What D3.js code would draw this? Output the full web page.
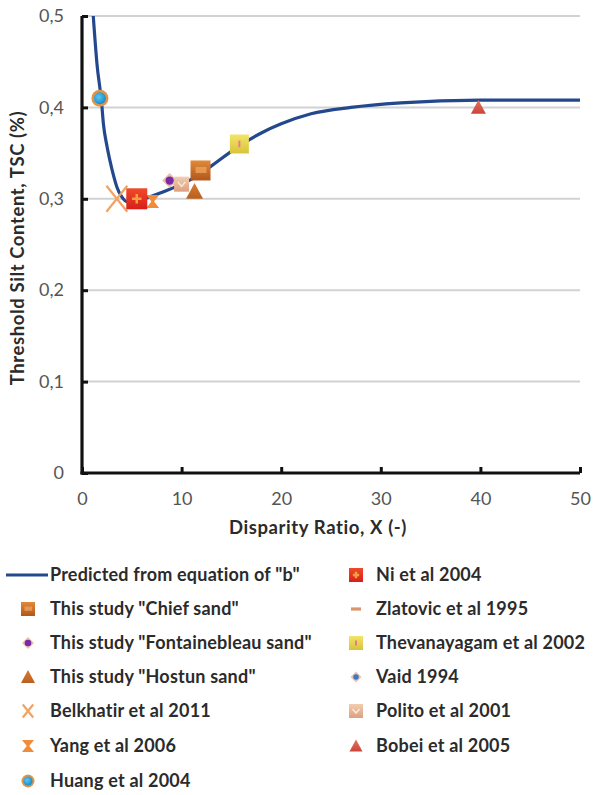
<!DOCTYPE html>
<html>
<head>
<meta charset="utf-8">
<script src="https://cdn.jsdelivr.net/npm/d3@7"></script>
<style>
  html, body { margin: 0; padding: 0; background: #fff; }
  svg { display: block; }
</style>
</head>
<body>
<svg id="chart" width="595" height="795"></svg>
<script>
// Predicted curve TSC = f(X), sampled along the fitted equation "b"
const curveX = [1.13, 1.5, 1.97, 2.15, 2.5, 2.8, 3.2, 3.5, 4.0, 4.5, 5.5, 6.5, 8, 10, 12, 13, 15.8, 18, 20, 23, 27, 32, 40, 50];
const curveY = [0.5, 0.448, 0.405, 0.382, 0.358, 0.342, 0.324, 0.313, 0.302, 0.297, 0.298, 0.301, 0.307, 0.316, 0.328, 0.336, 0.358, 0.372, 0.382, 0.393, 0.400, 0.405, 0.408, 0.408];

// Experimental series: name, disparity ratio, threshold silt content, marker style
const seriesNames = ["This study \"Chief sand\"", "This study \"Fontainebleau sand\"", "This study \"Hostun sand\"",
  "Belkhatir et al 2011", "Yang et al 2006", "Huang et al 2004",
  "Ni et al 2004", "Zlatovic et al 1995", "Thevanayagam et al 2002", "Vaid 1994", "Polito et al 2001", "Bobei et al 2005"];
const seriesX = [11.9, 8.8, 11.3, 3.5, 7.1, 1.8, 5.5, 5.6, 15.8, 9.6, 10.0, 39.8];
const seriesY = [0.331, 0.320, 0.308, 0.300, 0.297, 0.410, 0.300, 0.300, 0.360, 0.316, 0.316, 0.400];
const seriesMarker = ["square", "diamond", "triangle", "x", "bowtie", "circle", "squareCross", "dash", "squareYellow", "diamondBlue", "squareBeige", "triangleRed"];
const seriesSize = [20, 15, 17, 26, 13, 17, 21, 12, 19, 11, 15, 15];
// draw order in the plot (later = on top)
const drawOrder = [9, 7, 10, 3, 4, 6, 1, 2, 0, 8, 5, 11];

const xTicks = [0, 10, 20, 30, 40, 50];
const yTicks = [0, 0.1, 0.2, 0.3, 0.4, 0.5];

const svg = d3.select("#chart");
const x = d3.scaleLinear().domain([0, 50]).range([82, 580]);
const y = d3.scaleLinear().domain([0, 0.5]).range([473, 16]);

const defs = svg.append("defs");
defs.append("clipPath").attr("id", "plotClip")
  .append("rect").attr("x", 82).attr("y", 16).attr("width", 500).attr("height", 458);

// gradients for the bevelled-looking markers
function grad(id, c1, c2) {
  const g = defs.append("linearGradient").attr("id", id).attr("x1", 0).attr("y1", 0).attr("x2", 0).attr("y2", 1);
  g.append("stop").attr("offset", "0%").attr("stop-color", c1);
  g.append("stop").attr("offset", "100%").attr("stop-color", c2);
}
grad("gBrown", "#e08a3a", "#b2561a");
grad("gRed", "#f04a2a", "#d81e1a");
grad("gYellow", "#f2e46a", "#d8c43a");
grad("gBeige", "#f2cdb0", "#dca080");
grad("gTri", "#d97a35", "#b9601f");
grad("gTriRed", "#e8725f", "#c9453a");
const rg = defs.append("radialGradient").attr("id", "gBlue").attr("cx", "40%").attr("cy", "40%").attr("r", "60%");
rg.append("stop").attr("offset", "0%").attr("stop-color", "#5cc8f0");
rg.append("stop").attr("offset", "100%").attr("stop-color", "#1a8ccc");

// gridlines
svg.append("g").selectAll("line").data(yTicks.filter(d => d > 0)).join("line")
  .attr("x1", x(0)).attr("x2", x(50))
  .attr("y1", d => y(d)).attr("y2", d => y(d))
  .attr("stroke", "#d2d2d2").attr("stroke-width", 2);

// axes
const fmt = d => d === 0 ? "0" : d3.format(".1f")(d).replace(".", ",");
const yAxis = svg.append("g").attr("transform", `translate(${x(0)},0)`)
  .call(d3.axisLeft(y).tickValues(yTicks).tickSizeInner(-6).tickSizeOuter(0).tickPadding(18).tickFormat(fmt));
const xAxis = svg.append("g").attr("transform", `translate(0,${y(0)})`)
  .call(d3.axisBottom(x).tickValues(xTicks).tickSizeInner(-6).tickSizeOuter(0).tickPadding(23));
[xAxis, yAxis].forEach(a => {
  a.select(".domain").attr("stroke", "#111").attr("stroke-width", 3.2);
  a.selectAll(".tick line").attr("stroke", "#111").attr("stroke-width", 3);
  a.selectAll(".tick text").attr("fill", "#555").style("font-family", "Lato, 'Open Sans', sans-serif").style("font-size", "18px");
});
yAxis.select(".domain").attr("d", `M0,${y(0) + 1.5}V${y(0.5)}`);
xAxis.select(".domain").attr("d", `M${x(0) - 1.5},0H${x(50)}`);
xAxis.selectAll(".tick text").attr("dy", "0.5em");

// axis titles
const titleStyle = sel => sel.style("font-family", "Lato, sans-serif").style("font-weight", "bold")
  .style("font-size", "18.5px").style("letter-spacing", "0.6px").attr("fill", "#2b2b2b");
svg.append("text").attr("x", 318).attr("y", 534).attr("text-anchor", "middle")
  .call(titleStyle).text("Disparity Ratio, X (-)");
svg.append("text").attr("transform", "translate(24,248) rotate(-90)").attr("text-anchor", "middle")
  .call(titleStyle).text("Threshold Silt Content, TSC (%)");

// predicted curve
const line = d3.line().x(d => x(d[0])).y(d => y(d[1])).curve(d3.curveMonotoneX);
svg.append("path").attr("clip-path", "url(#plotClip)")
  .datum(curveX.map((v, i) => [v, curveY[i]]))
  .attr("d", line).attr("fill", "none").attr("stroke", "#24488e").attr("stroke-width", 3.2);

// marker painter
function marker(g, type, s) {
  const h = s / 2;
  switch (type) {
    case "square":
      g.append("rect").attr("x", -h).attr("y", -h).attr("width", s).attr("height", s).attr("fill", "url(#gBrown)");
      g.append("rect").attr("x", -h * 0.5).attr("y", -h * 0.35).attr("width", s * 0.55).attr("height", s * 0.3).attr("fill", "#eda060").attr("opacity", 0.8);
      break;
    case "squareCross":
      g.append("rect").attr("x", -h).attr("y", -h).attr("width", s).attr("height", s).attr("fill", "url(#gRed)");
      g.append("path").attr("d", `M${-h * 0.45},0H${h * 0.45}M0,${-h * 0.45}V${h * 0.45}`).attr("stroke", "#f5a040").attr("stroke-width", 2.5);
      break;
    case "squareYellow":
      g.append("rect").attr("x", -h).attr("y", -h).attr("width", s).attr("height", s).attr("fill", "url(#gYellow)");
      g.append("path").attr("d", `M0,${-h * 0.35}V${h * 0.35}`).attr("stroke", "#e87a8a").attr("stroke-width", 2);
      break;
    case "squareBeige":
      g.append("rect").attr("x", -h).attr("y", -h).attr("width", s).attr("height", s).attr("fill", "url(#gBeige)");
      g.append("path").attr("d", `M${-h * 0.5},${-h * 0.3}L0,${h * 0.3}L${h * 0.5},${-h * 0.3}`).attr("fill", "none").attr("stroke", "#fbe8d8").attr("stroke-width", 1.5);
      break;
    case "diamond":
      g.append("path").attr("d", `M0,${-h}L${h},0L0,${h}L${-h},0Z`).attr("fill", "#e8c0a8");
      g.append("circle").attr("r", h * 0.55).attr("fill", "#7a2aa8");
      break;
    case "diamondBlue":
      g.append("path").attr("d", `M0,${-h}L${h},0L0,${h}L${-h},0Z`).attr("fill", "#e6c4ae");
      g.append("circle").attr("r", h * 0.5).attr("fill", "#3a78c8");
      break;
    case "triangle":
      g.append("path").attr("d", `M0,${-h}L${h},${h * 0.85}L${-h},${h * 0.85}Z`).attr("fill", "url(#gTri)");
      break;
    case "triangleRed":
      g.append("path").attr("d", `M0,${-h}L${h},${h * 0.85}L${-h},${h * 0.85}Z`).attr("fill", "url(#gTriRed)");
      break;
    case "x":
      g.append("path").attr("d", `M${-h * 0.8},${-h}L${h * 0.8},${h}M${h * 0.8},${-h}L${-h * 0.8},${h}`)
        .attr("stroke", "#f3a35f").attr("stroke-width", 2.2).attr("fill", "none");
      break;
    case "bowtie":
      g.append("path").attr("d", `M${-h},${-h}H${h}L${h * 0.2},0L${h},${h}H${-h}L${-h * 0.2},0Z`).attr("fill", "#f08c3a");
      break;
    case "circle":
      g.append("circle").attr("r", h).attr("fill", "#e0954a");
      g.append("circle").attr("r", h * 0.7).attr("fill", "url(#gBlue)");
      break;
    case "dash":
      g.append("rect").attr("x", -h).attr("y", -1.6).attr("width", s).attr("height", 3.2).attr("fill", "#d9966a");
      break;
  }
}

// data markers
const pts = svg.append("g");
drawOrder.forEach(i => {
  const g = pts.append("g").attr("transform", `translate(${x(seriesX[i])},${y(seriesY[i])})`);
  marker(g, seriesMarker[i], seriesSize[i]);
});

// legend
const legend = svg.append("g").style("font-family", "Lato, sans-serif").style("font-weight", "bold")
  .style("font-size", "18px").style("letter-spacing", "0.2px");
const rowY = [575, 609, 643, 677, 711, 746, 781];
// first entry: the predicted curve
legend.append("line").attr("x1", 6).attr("x2", 48).attr("y1", rowY[0]).attr("y2", rowY[0]).attr("stroke", "#24488e").attr("stroke-width", 3);
legend.append("text").attr("x", 50).attr("y", rowY[0]).attr("dy", "0.35em").attr("fill", "#2b2b2b").text("Predicted from equation of \"b\"");
seriesNames.forEach((name, i) => {
  const leftCol = i < 6;
  const row = leftCol ? i + 1 : i - 6;
  const mx = leftCol ? 28 : 356;
  const tx = leftCol ? 50 : 376;
  const g = legend.append("g").attr("transform", `translate(${mx},${rowY[row]})`);
  const legSize = { x: 13, bowtie: 12, dash: 10, diamond: 12, diamondBlue: 11, circle: 13, triangle: 14, triangleRed: 13 }[seriesMarker[i]] || 14;
  marker(g, seriesMarker[i], legSize);
  legend.append("text").attr("x", tx).attr("y", rowY[row]).attr("dy", "0.35em").attr("fill", "#2b2b2b").text(name);
});
</script>
</body>
</html>
